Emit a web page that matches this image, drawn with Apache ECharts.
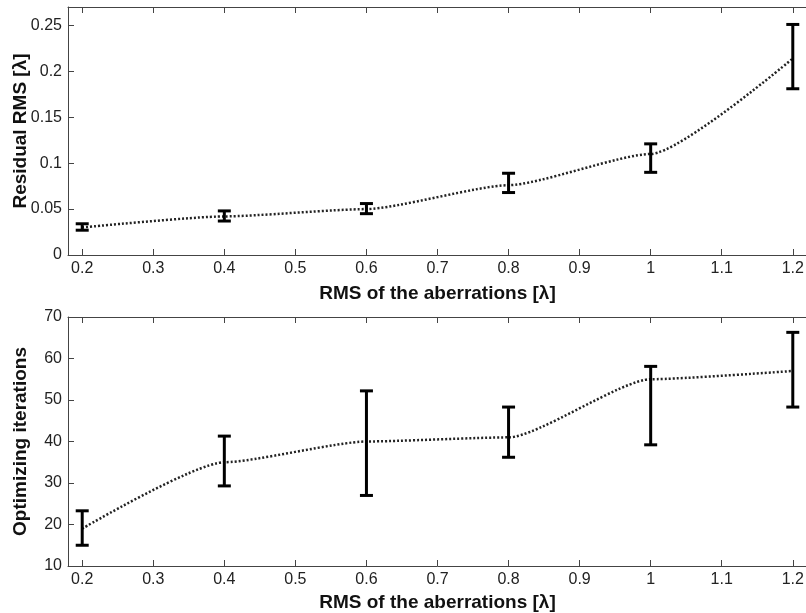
<!DOCTYPE html>
<html>
<head>
<meta charset="utf-8">
<script src="https://cdn.jsdelivr.net/npm/echarts@6/dist/echarts.min.js"></script>
<style>
  html, body { margin: 0; padding: 0; background: #fff; }
  #chart { width: 806px; height: 613px; }
</style>
</head>
<body>
<div id="chart"></div>
<script>
// aberration RMS levels (x)
const xVals = [0.2, 0.4, 0.6, 0.8, 1.0, 1.2];
const xTicks = [0.2, 0.3, 0.4, 0.5, 0.6, 0.7, 0.8, 0.9, 1.0, 1.1, 1.2];

// top panel: residual RMS
const rmsMean = [0.030, 0.042, 0.050, 0.076, 0.110, 0.214];
const rmsLow = [0.027, 0.037, 0.045, 0.068, 0.090, 0.181];
const rmsHigh = [0.034, 0.048, 0.056, 0.089, 0.121, 0.251];
const rmsTicks = [0, 0.05, 0.1, 0.15, 0.2, 0.25];

// bottom panel: optimizing iterations
const iterMean = [19, 35, 40, 41, 55, 57];
const iterLow = [15, 29.3, 27, 36.2, 39.2, 48.3];
const iterHigh = [23.3, 41.3, 52.2, 48.3, 58.1, 66.3];

const font = 'Liberation Sans, Arial, sans-serif';
const axisColor = '#444';
const titleStyle = { fontFamily: font, fontSize: 19, fontWeight: 'bold', color: '#111' };
const tickFont = { fontFamily: font, fontSize: 16, color: '#222' };

const chart = echarts.init(document.getElementById('chart'));

function renderErrorBar(params, api) {
  const x = api.value(0);
  const lo = api.coord([x, api.value(1)]);
  const hi = api.coord([x, api.value(2)]);
  const w = 6.5;
  const style = { stroke: '#000', lineWidth: 3 };
  return {
    type: 'group',
    children: [
      { type: 'line', shape: { x1: hi[0], y1: hi[1], x2: lo[0], y2: lo[1] }, style },
      { type: 'line', shape: { x1: hi[0] - w, y1: hi[1], x2: hi[0] + w, y2: hi[1] }, style },
      { type: 'line', shape: { x1: lo[0] - w, y1: lo[1], x2: lo[0] + w, y2: lo[1] }, style }
    ]
  };
}

function bottomX(gridIndex, gap) {
  return {
    type: 'value',
    gridIndex,
    min: 0.18,
    max: 1.22,
    name: 'RMS of the aberrations [λ]',
    nameLocation: 'middle',
    nameGap: gap,
    nameMoveOverlap: false,
    nameTextStyle: titleStyle,
    axisLine: { lineStyle: { color: axisColor } },
    axisTick: { inside: true, length: 6, customValues: xTicks, lineStyle: { color: axisColor } },
    axisLabel: Object.assign({
      customValues: xTicks,
      margin: 6,
      formatter: v => String(+v.toFixed(2))
    }, tickFont),
    splitLine: { show: false }
  };
}

function topX(gridIndex) {
  return {
    type: 'value',
    gridIndex,
    position: 'top',
    min: 0.18,
    max: 1.22,
    axisLine: { show: true, lineStyle: { color: axisColor } },
    axisTick: { show: true, inside: true, length: 6, customValues: xTicks, lineStyle: { color: axisColor } },
    axisLabel: { show: false },
    splitLine: { show: false }
  };
}

function leftY(gridIndex, name, extra) {
  return Object.assign({
    type: 'value',
    gridIndex,
    name,
    nameLocation: 'middle',
    nameGap: 38,
    nameMoveOverlap: false,
    nameTextStyle: titleStyle,
    axisLine: { show: true, lineStyle: { color: axisColor } },
    axisTick: { show: true, inside: true, length: 6, lineStyle: { color: axisColor } },
    axisLabel: Object.assign({ margin: 6 }, tickFont),
    splitLine: { show: false }
  }, extra);
}

const option = {
  animation: false,
  grid: [
    { left: 68, top: 7, width: 739, height: 248, outerBoundsMode: 'none', containLabel: false },
    { left: 68, top: 317, width: 739, height: 249, outerBoundsMode: 'none', containLabel: false }
  ],
  xAxis: [bottomX(0, 29), topX(0), bottomX(1, 27), topX(1)],
  yAxis: [
    leftY(0, 'Residual RMS [λ]', {
      min: 0, max: 0.27,
      axisTick: { show: true, inside: true, length: 6, customValues: rmsTicks, lineStyle: { color: axisColor } },
      axisLabel: Object.assign({ customValues: rmsTicks, margin: 6 }, tickFont)
    }),
    leftY(1, 'Optimizing iterations', { min: 10, max: 70, interval: 10 })
  ],
  series: [
    {
      type: 'line',
      xAxisIndex: 0, yAxisIndex: 0,
      data: xVals.map((x, i) => [x, rmsMean[i]]),
      smooth: 0.2,
      smoothMonotone: 'x',
      showSymbol: false,
      lineStyle: { color: '#222', width: 2.5, type: [2, 2] },
      z: 2
    },
    {
      type: 'custom',
      xAxisIndex: 0, yAxisIndex: 0,
      renderItem: renderErrorBar,
      encode: { x: 0, y: [1, 2] },
      data: xVals.map((x, i) => [x, rmsLow[i], rmsHigh[i]]),
      z: 3
    },
    {
      type: 'line',
      xAxisIndex: 2, yAxisIndex: 1,
      data: xVals.map((x, i) => [x, iterMean[i]]),
      smooth: 0.2,
      smoothMonotone: 'x',
      showSymbol: false,
      lineStyle: { color: '#222', width: 2.5, type: [2, 2] },
      z: 2
    },
    {
      type: 'custom',
      xAxisIndex: 2, yAxisIndex: 1,
      renderItem: renderErrorBar,
      encode: { x: 0, y: [1, 2] },
      data: xVals.map((x, i) => [x, iterLow[i], iterHigh[i]]),
      z: 3
    }
  ]
};

chart.setOption(option);
</script>
</body>
</html>
